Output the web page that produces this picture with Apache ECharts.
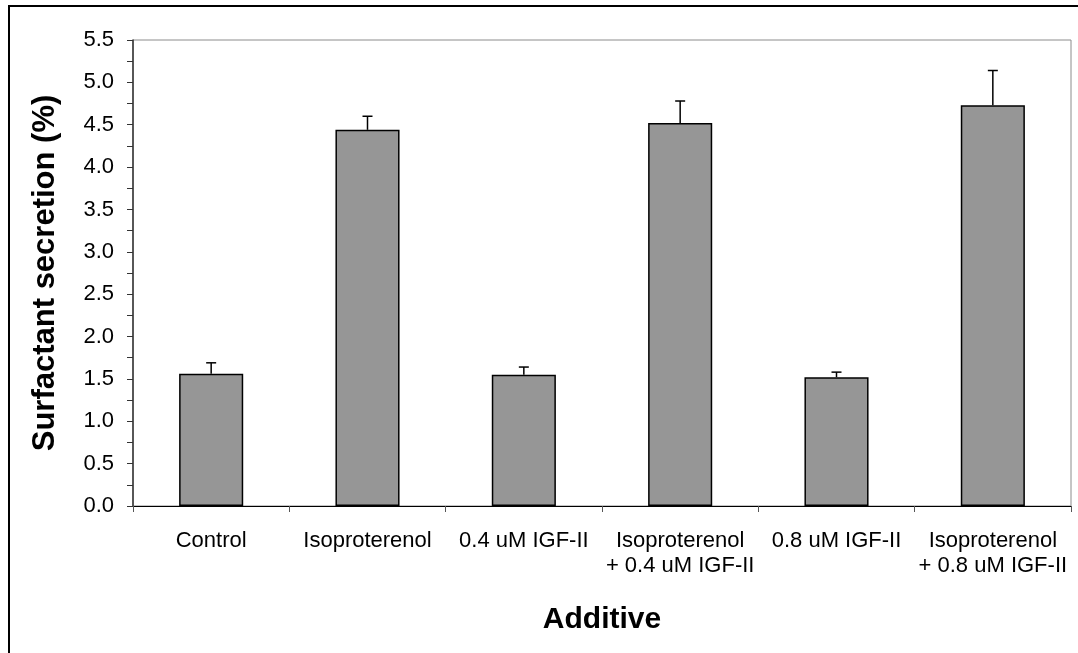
<!DOCTYPE html>
<html>
<head>
<meta charset="utf-8">
<script src="https://cdn.jsdelivr.net/npm/echarts@6/dist/echarts.min.js"></script>
<style>
  html, body { margin: 0; padding: 0; background: #fff; }
  #chart { width: 1078px; height: 653px; }
</style>
</head>
<body>
<div id="chart"></div>
<script>
// data
const categories = [
  "Control",
  "Isoproterenol",
  "0.4 uM IGF-II",
  "Isoproterenol\n+ 0.4 uM IGF-II",
  "0.8 uM IGF-II",
  "Isoproterenol\n+ 0.8 uM IGF-II"
];
const secretion = [1.56, 4.44, 1.55, 4.52, 1.52, 4.73];
const errorUp = [0.13, 0.16, 0.09, 0.26, 0.06, 0.41];

const chart = echarts.init(document.getElementById("chart"));

const errorData = secretion.map((v, i) => [i, v, v + errorUp[i]]);

const option = {
  animation: false,
  textStyle: { fontFamily: "Liberation Sans, Arial, sans-serif" },
  graphic: [
    {
      type: "rect",
      shape: { x: 9, y: 6, width: 1100, height: 700 },
      style: { fill: "none", stroke: "#000", lineWidth: 2 },
      z: 100
    }
  ],
  grid: {
    left: 133,
    right: 7,
    top: 40,
    bottom: 147,
    show: true,
    borderColor: "#8c8c8c",
    borderWidth: 1
  },
  xAxis: {
    type: "category",
    data: categories,
    name: "Additive",
    nameLocation: "middle",
    nameGap: 99,
    nameTextStyle: { fontSize: 30, fontWeight: "bold", color: "#000" },
    axisLine: { lineStyle: { color: "#000", width: 1 } },
    axisTick: { show: true, length: 6, alignWithLabel: false, lineStyle: { color: "#555" } },
    axisLabel: { fontSize: 22, color: "#000", margin: 22, lineHeight: 25, interval: 0 }
  },
  yAxis: {
    type: "value",
    min: 0,
    max: 5.5,
    interval: 0.5,
    name: "Surfactant secretion (%)",
    nameLocation: "middle",
    nameGap: 72,
    nameTextStyle: { fontSize: 31, fontWeight: "bold", color: "#000" },
    axisLine: { show: true, lineStyle: { color: "#333", width: 1.5 } },
    axisTick: { show: true, length: 6, lineStyle: { color: "#333" } },
    minorTick: { show: true, splitNumber: 2, length: 6, lineStyle: { color: "#333" } },
    splitLine: { show: false },
    axisLabel: {
      fontSize: 22,
      color: "#000",
      margin: 19,
      formatter: v => v.toFixed(1)
    }
  },
  series: [
    {
      type: "bar",
      data: secretion,
      barWidth: "41%",
      itemStyle: { color: "#969696", borderColor: "#000", borderWidth: 1.5 },
      z: 2
    },
    {
      type: "custom",
      data: errorData,
      encode: { x: 0, y: [1, 2] },
      z: 3,
      renderItem: function (params, api) {
        const base = api.coord([api.value(0), api.value(1)]);
        const top = api.coord([api.value(0), api.value(2)]);
        const cap = 5;
        const style = { stroke: "#000", lineWidth: 1.5 };
        return {
          type: "group",
          children: [
            { type: "line", shape: { x1: base[0], y1: base[1], x2: top[0], y2: top[1] }, style },
            { type: "line", shape: { x1: top[0] - cap, y1: top[1], x2: top[0] + cap, y2: top[1] }, style }
          ]
        };
      }
    }
  ]
};

chart.setOption(option);
</script>
</body>
</html>
